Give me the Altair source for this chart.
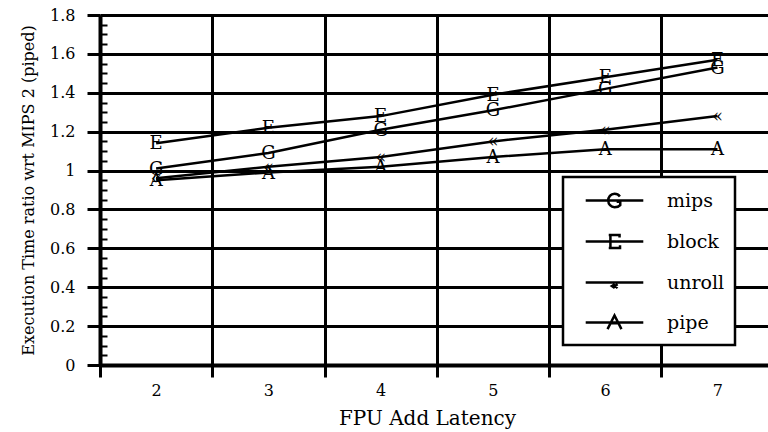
import altair as alt
import pandas as pd

# ---- data ----
latency = [2, 3, 4, 5, 6, 7]
series_names = ["mips", "block", "unroll", "pipe"]
series_letters = ["G", "E", "\u00ab", "A"]
mips = [1.01, 1.09, 1.21, 1.31, 1.42, 1.53]
block = [1.14, 1.22, 1.28, 1.39, 1.48, 1.57]
unroll = [0.96, 1.02, 1.07, 1.15, 1.21, 1.28]
pipe = [0.95, 0.99, 1.02, 1.07, 1.11, 1.11]

y_ticks = [0, 0.2, 0.4, 0.6, 0.8, 1.0, 1.2, 1.4, 1.6, 1.8]
y_minor = [0.05, 0.1, 0.15, 0.25, 0.3, 0.35, 0.45, 0.5, 0.55, 0.65, 0.7, 0.75,
           0.85, 0.9, 0.95, 1.05, 1.1, 1.15, 1.25, 1.3, 1.35, 1.45, 1.5, 1.55,
           1.65, 1.7, 1.75]
x_bounds = [1.5, 2.5, 3.5, 4.5, 5.5, 6.5]

# legend symbols: a line with the series letter drawn on it (unit-square paths)
LINE = "M-2.4,0H2.4"
legend_paths = [
    LINE + "M0.45,-0.33C0.33,-0.5 0.17,-0.56 0,-0.56C-0.33,-0.56 -0.52,-0.28 -0.52,0"
           "C-0.52,0.3 -0.3,0.56 0,0.56C0.22,0.56 0.4,0.47 0.48,0.38V0.1H0.18",
    LINE + "M-0.34,-0.55V0.55M-0.48,-0.55H0.42V-0.34M-0.34,0H0.22M-0.48,0.55H0.46V0.32",
    LINE + "M0.02,0.14L-0.22,0.3L0.02,0.46M0.26,0.14L0.02,0.3L0.26,0.46",
    LINE + "M-0.58,0.55L0,-0.58L0.58,0.55M-0.3,0.06H0.3",
]

rows = []
for name, letter, vals in zip(series_names, series_letters, [mips, block, unroll, pipe]):
    for lat, v in zip(latency, vals):
        rows.append({"latency": lat, "value": v, "series": name, "letter": letter})
df = pd.DataFrame(rows)

FONT = "DejaVu Serif"

x_scale = alt.Scale(domain=[1.5, 7.45], nice=False, zero=False)
y_scale = alt.Scale(domain=[0, 1.8], nice=False, zero=True)

x_axis = alt.Axis(
    values=x_bounds, grid=True, gridColor="black", gridWidth=3, gridOpacity=1,
    ticks=True, tickSize=12, tickWidth=3, tickColor="black",
    domain=True, domainColor="black", domainWidth=4,
    labelExpr="datum.value + 0.5", labelOffset=56, labelPadding=5,
    labelFlush=False, labelOverlap=False,
    labelFont=FONT, labelFontSize=16, labelColor="black",
    title="FPU Add Latency", titleFont=FONT, titleFontSize=20,
    titleFontWeight="normal", titleColor="black",
    titleX=327, titleY=59, titleAlign="center", titleBaseline="alphabetic",
)
y_axis = alt.Axis(
    values=y_ticks, format="~g", grid=True, gridColor="black", gridWidth=3, gridOpacity=1,
    ticks=True, tickSize=13, tickWidth=3, tickColor="black",
    domain=True, domainColor="black", domainWidth=4,
    labelFlush=False, labelOverlap=False, labelPadding=12,
    labelFont=FONT, labelFontSize=16, labelColor="black",
    title="Execution Time ratio wrt MIPS 2 (piped)", titleFont=FONT, titleFontSize=16,
    titleFontWeight="normal", titleColor="black",
    titleX=-67, titleY=175, titleAngle=270, titleAlign="center", titleBaseline="alphabetic",
)
y_minor_axis = alt.Axis(
    orient="left", values=y_minor, grid=False, domain=False, labels=False,
    ticks=True, tickSize=7, tickWidth=2, tickColor="black", offset=-7, title=None,
)

base = alt.Chart(df)

lines = base.mark_line(color="black", strokeWidth=2.5).encode(
    x=alt.X("latency:Q", scale=x_scale, axis=x_axis),
    y=alt.Y("value:Q", scale=y_scale, axis=y_axis),
    detail="series:N",
)

letters = base.mark_text(font=FONT, fontSize=18, color="black",
                         align="center", baseline="middle", dy=1).encode(
    x=alt.X("latency:Q", scale=x_scale, axis=None),
    y=alt.Y("value:Q", scale=y_scale, axis=None),
    text="letter:N",
)

legend_layer = base.transform_filter("datum.value < -1").mark_point(
    color="black", filled=False, strokeWidth=2.5, opacity=1
).encode(
    x=alt.X("latency:Q", scale=x_scale, axis=None),
    y=alt.Y("value:Q", scale=y_scale, axis=y_minor_axis),
    shape=alt.Shape(
        "series:N",
        scale=alt.Scale(domain=series_names, range=legend_paths),
        legend=alt.Legend(
            orient="none", legendX=463, legendY=162, title=None,
            strokeColor="black", fillColor="white", padding=10,
            symbolSize=576, symbolStrokeWidth=2.5, symbolStrokeColor="black",
            symbolFillColor="transparent", symbolOpacity=1,
            symbolOffset=28, labelOffset=39,
            rowPadding=15,
            labelFont=FONT, labelFontSize=19, labelColor="black",
        ),
    ),
)

chart = (
    alt.layer(lines, letters, legend_layer)
    .resolve_axis(x="independent", y="independent")
    .properties(
        width=668, height=350,
        padding={"left": 100, "top": 15, "right": 0, "bottom": 67},
        autosize=alt.AutoSizeParams(type="none"),
        background="white",
    )
    .configure_view(stroke=None)
    .configure_legend(strokeWidth=2.5)
)

chart.save("out.html", embed_options={"renderer": "svg", "actions": False})
